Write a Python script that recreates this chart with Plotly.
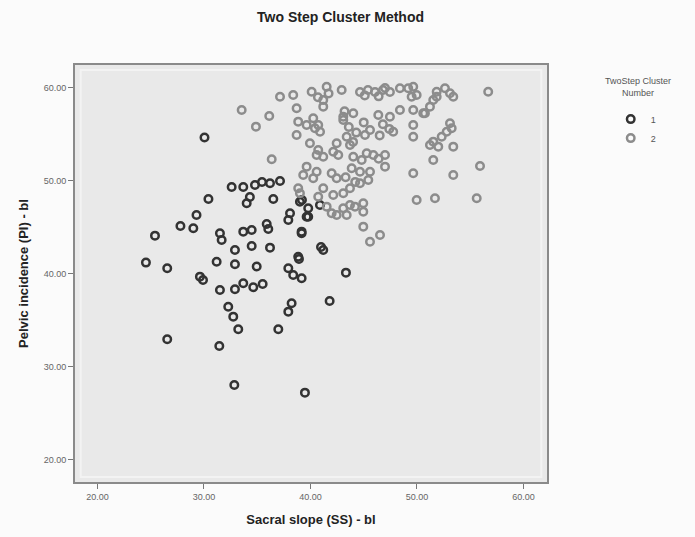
import plotly.graph_objects as go

# Cluster 1: sacral slope (SS) and pelvic incidence (PI)
ss_c1 = [30.05, 32.60, 33.69, 34.79, 35.45, 36.20, 37.14, 34.31, 34.01, 36.51,
         30.42, 29.30, 27.79, 29.00, 25.40, 31.50, 31.66, 33.69, 34.48, 35.89,
         36.04, 38.08, 37.92, 39.01, 39.79, 39.79, 39.17, 32.91, 34.48, 36.20,
         31.19, 32.91, 34.95, 24.55, 26.55, 29.62, 29.91, 31.50, 32.91, 33.69,
         34.63, 35.51, 37.92, 38.38, 39.17, 38.85, 38.92, 41.20, 40.99, 41.80,
         43.33, 32.28, 32.75, 33.22, 38.23, 37.92, 36.98, 26.55, 31.44, 32.85,
         39.48, 39.20, 40.89, 39.64, 39.17]
pi_c1 = [54.68, 49.35, 49.35, 49.57, 49.89, 49.75, 50.00, 48.28, 47.60, 48.06,
         48.06, 46.34, 45.16, 44.91, 44.12, 44.38, 43.66, 44.55, 44.73, 45.38,
         44.84, 46.53, 45.81, 47.77, 47.06, 46.16, 44.55, 42.58, 43.01, 42.83,
         41.32, 41.04, 40.81, 41.22, 40.61, 39.71, 39.35, 38.28, 38.35, 39.00,
         38.57, 38.92, 40.61, 39.89, 39.54, 41.86, 41.61, 42.58, 42.90, 37.10,
         40.14, 36.48, 35.41, 34.05, 36.85, 35.95, 34.05, 32.98, 32.26, 28.06,
         27.24, 47.96, 47.42, 46.16, 44.38]

# Cluster 2
ss_c2 = [37.14, 38.38, 40.11, 41.52, 42.93, 44.65, 45.40, 46.06, 46.81, 47.46,
         48.40, 49.18, 49.65, 49.50, 49.97, 51.85, 52.63, 53.10, 53.41, 56.69,
         41.20, 41.20, 38.70, 33.54, 36.13, 40.26, 43.08, 44.02, 46.37, 47.46,
         48.40, 49.65, 50.75, 51.53, 51.22, 51.85, 50.59, 38.85,
         34.88, 40.42, 40.73, 43.08, 45.59, 45.12, 47.77, 49.65, 53.10, 53.26,
         52.79, 49.65, 52.32, 38.70, 39.64,
         39.95, 40.73, 41.20, 42.14, 42.46, 43.40, 42.61, 43.71, 44.02, 44.81,
         45.90, 47.00, 45.28, 51.53, 51.22, 52.00, 53.41, 51.53, 36.36, 40.58,
         43.87, 44.65, 45.59, 45.43, 44.65, 47.00, 41.99, 42.46, 39.64, 39.32,
         40.58, 40.26, 49.65, 53.41, 55.92,
         38.85, 39.01, 41.20, 40.73, 42.14, 43.71, 43.08, 49.97, 51.69, 55.61,
         41.52, 41.99, 43.08, 43.71, 44.96, 42.46, 43.40, 44.18, 44.96, 44.96,
         46.53, 45.59,
         43.60, 44.30, 44.00, 45.00, 43.20, 45.10, 46.40, 47.00, 46.80, 47.40,
         46.50, 43.30, 44.20, 46.40, 40.70, 41.70, 40.90]
pi_c2 = [59.06, 59.25, 59.60, 60.14, 59.78, 59.57, 59.78, 59.57, 59.78, 59.57,
         59.97, 59.97, 60.14, 59.06, 59.25, 59.60, 59.97, 59.43, 59.06, 59.60,
         58.71, 57.99, 57.82, 57.63, 56.99, 56.74, 56.91, 57.28, 57.10, 56.91,
         57.63, 57.63, 57.28, 58.71, 57.99, 59.06, 57.28, 56.38,
         55.84, 55.67, 56.02, 56.56, 55.48, 54.95, 55.30, 56.02, 56.20, 55.67,
         55.30, 54.76, 54.76, 54.95, 56.02,
         54.05, 53.33, 52.61, 53.15, 54.05, 54.76, 52.80, 53.87, 52.61, 52.26,
         52.80, 52.80, 52.98, 54.23, 53.87, 53.69, 53.69, 52.26, 52.33, 52.80,
         51.37, 51.00, 51.00, 50.11, 49.75, 51.54, 50.83, 50.29, 51.54, 50.65,
         51.00, 50.29, 50.83, 50.65, 51.61,
         49.22, 48.68, 49.22, 48.31, 48.49, 49.22, 48.68, 47.96, 48.14, 48.14,
         47.24, 46.53, 47.06, 47.42, 47.60, 46.34, 46.34, 47.24, 46.70, 45.09,
         44.19, 43.47,
         55.80, 55.20, 54.20, 56.30, 57.50, 59.20, 59.10, 60.00, 56.10, 55.60,
         54.90, 50.40, 49.90, 52.40, 59.00, 59.40, 55.30]

x_ticks = [20, 30, 40, 50, 60]
y_ticks = [20, 30, 40, 50, 60]
x_range = [17.89, 62.21]
y_range = [17.63, 62.47]

font_main = "Liberation Sans, Arial, sans-serif"

fig = go.Figure()
fig.add_trace(go.Scatter(
    x=ss_c1, y=pi_c1, mode="markers", name="1",
    marker=dict(symbol="circle-open", size=7.5, color="#333333",
                line=dict(width=2.5, color="#333333")),
))
fig.add_trace(go.Scatter(
    x=ss_c2, y=pi_c2, mode="markers", name="2",
    marker=dict(symbol="circle-open", size=7.5, color="#8c8c8c",
                line=dict(width=2.5, color="#8c8c8c")),
))

# light inset frame inside the plotting area
fig.add_shape(type="rect", xref="paper", yref="paper",
              x0=0.012, x1=0.988, y0=0.012, y1=0.988,
              line=dict(color="#f3f3f3", width=2), layer="below")

# legend heading, centred above the entries
fig.add_annotation(text="TwoStep Cluster<br>Number", xref="paper", yref="paper",
                   x=1.193, y=0.948, xanchor="center", yanchor="middle",
                   showarrow=False, align="center",
                   font=dict(size=9, color="#555", family=font_main))

fig.update_layout(
    width=695, height=537,
    margin=dict(l=75, r=148, t=65, b=55),
    paper_bgcolor="#fbfbfb",
    plot_bgcolor="#e9e9e9",
    font=dict(family=font_main, color="#444"),
    title=dict(text="<b>Two Step Cluster Method</b>", x=0.49, xanchor="center",
               y=0.968, yanchor="middle",
               font=dict(size=14, color="#222", family=font_main)),
    showlegend=True,
    legend=dict(
        x=1.135, xanchor="left", y=0.905, yanchor="top",
        font=dict(size=9, color="#555"),
        bgcolor="rgba(0,0,0,0)", itemwidth=30, tracegroupgap=0,
    ),
    xaxis=dict(
        range=x_range, tickvals=x_ticks, tickformat=".2f",
        ticks="outside", ticklen=5, tickcolor="#777", tickwidth=1,
        showgrid=False, zeroline=False,
        showline=True, linecolor="#8a8a8a", linewidth=2, mirror=True,
        tickfont=dict(size=9, color="#666"),
        title=dict(text="<b>Sacral slope (SS) - bl</b>", standoff=14,
                   font=dict(size=13, color="#222")),
    ),
    yaxis=dict(
        range=y_range, tickvals=y_ticks, tickformat=".2f",
        ticks="outside", ticklen=5, tickcolor="#777", tickwidth=1,
        showgrid=False, zeroline=False,
        showline=True, linecolor="#8a8a8a", linewidth=2, mirror=True,
        tickfont=dict(size=9, color="#666"),
        title=dict(text="<b>Pelvic incidence (PI) - bl</b>", standoff=12,
                   font=dict(size=13, color="#222")),
    ),
)

fig.write_html("out.html")
